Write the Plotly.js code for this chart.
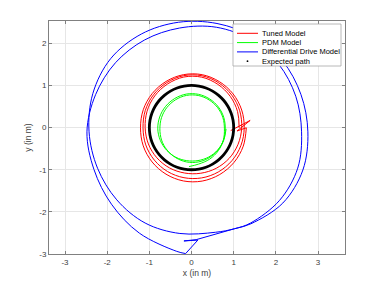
<!DOCTYPE html>
<html><head><meta charset="utf-8">
<script src="https://cdn.plot.ly/plotly-3.0.1.min.js"></script>
<style>html,body{margin:0;padding:0;background:#fff}#chart{width:382px;height:286px}</style>
</head><body><div id="chart"></div>
<script>
const seriesNames = ['Tuned Model','PDM Model','Differential Drive Model','Expected path'];
const seriesColors = ['#ff0000','#00ff00','#0000ff','#000000'];
const xTickVals = [-3,-2,-1,0,1,2,3];
const xTickText = ['-3','-2','-1','0','1','2','3'];
const yTickVals = [-3,-2,-1,0,1,2];
const yTickText = ['-3','-2','-1','0','1','2'];

const tunedHookX = [0.93,1.39,1.08,1.30];
const tunedHookY = [-0.07,0.17,-0.08,-0.005];
const tunedX = [1.30,1.227,1.008,0.67,0.253,-0.193,-0.605,-0.935,-1.145,-1.21,-1.145,-0.935,-0.605,-0.193,0.253,0.662,0.987,1.19,
 1.25,1.173,0.959,0.635,0.24,-0.179,-0.569,-0.882,-1.085,-1.15,-1.097,-0.903,-0.589,-0.189,0.248,0.646,0.955,1.143,
 1.19,1.104,0.893,0.585,0.22,-0.16,-0.52,-0.82,-1.023,-1.10,-1.054,-0.872,-0.57,-0.183,0.242,0.625,0.919,1.092,1.13];
const tunedY = [-0.005,-0.44,-0.826,-1.113,-1.269,-1.266,-1.105,-0.815,-0.433,-0.005,0.423,0.805,1.095,1.256,1.256,1.09,0.798,0.417,
 -0.005,-0.421,-0.785,-1.053,-1.194,-1.189,-1.042,-0.771,-0.411,-0.005,0.405,0.778,1.066,1.232,1.23,1.061,0.771,0.40,
 -0.005,-0.396,-0.73,-0.966,-1.083,-1.079,-0.958,-0.719,-0.388,-0.005,0.389,0.752,1.034,1.20,1.197,1.026,0.741,0.381,-0.005];

const pdmX = [0.82,0.764,0.619,0.407,0.153,-0.113,-0.37,-0.587,-0.739,-0.80,-0.755,-0.615,-0.397,-0.126,0.165,0.43,0.638,0.765,
 0.80,0.757,0.624,0.417,0.159,-0.119,-0.375,-0.58,-0.71,-0.75,-0.712,-0.584,-0.379,-0.12,0.16,0.417,0.619,0.745,
 0.78,0.755,0.636,0.434,0.168,-0.06];
const pdmY = [-0.03,-0.301,-0.533,-0.699,-0.783,-0.785,-0.705,-0.54,-0.306,-0.03,0.252,0.503,0.691,0.795,0.79,0.68,0.489,0.241,
 -0.03,-0.298,-0.537,-0.717,-0.816,-0.815,-0.714,-0.533,-0.296,-0.03,0.236,0.477,0.66,0.764,0.762,0.657,0.473,0.234,
 -0.03,-0.297,-0.547,-0.746,-0.866,-0.925];

const ddHookX = [1.02,0.11,-0.18,0.15,-0.14];
const ddHookY = [-2.40,-2.66,-2.69,-2.67,-2.99];
const ddX = [-0.14,-0.351,-1.238,-1.898,-2.313,-2.48,-2.275,-1.803,-1.11,-0.285,
 0.588,1.41,2.065,2.472,2.61,2.519,2.088,1.40,1.02,0.571,
 -0.276,-1.10,-1.773,-2.228,-2.43,-2.341,-1.918,-1.19,-0.309,0.604,
 1.455,2.157,2.594,2.76,2.641,2.165,1.41,1.02];
const ddY = [-2.99,-2.937,-2.504,-1.819,-0.996,-0.1,0.782,1.540,2.082,2.363,
 2.382,2.082,1.508,0.745,-0.1,-0.962,-1.727,-2.265,-2.40,-2.484,
 -2.513,-2.265,-1.714,-0.965,-0.1,0.806,1.636,2.221,2.50,2.471,
 2.16,1.585,0.789,-0.1,-1.006,-1.791,-2.282,-2.40];

const expectedX = [1,0.985,0.940,0.866,0.766,0.643,0.5,0.342,0.174,0,-0.174,-0.342,-0.5,-0.643,-0.766,-0.866,-0.940,-0.985,-1,
 -0.985,-0.940,-0.866,-0.766,-0.643,-0.5,-0.342,-0.174,0,0.174,0.342,0.5,0.643,0.766,0.866,0.940,0.985,1];
const expectedY = [0,-0.174,-0.342,-0.5,-0.643,-0.766,-0.866,-0.940,-0.985,-1,-0.985,-0.940,-0.866,-0.766,-0.643,-0.5,-0.342,-0.174,0,
 0.174,0.342,0.5,0.643,0.766,0.866,0.940,0.985,1,0.985,0.940,0.866,0.766,0.643,0.5,0.342,0.174,0];

const FONT = 'Liberation Sans, Arial, Helvetica, sans-serif';
const M = {l:49, r:37, t:21, b:32};
const PW = 382 - M.l - M.r, PH = 286 - M.t - M.b;
const px = x => (x - M.l) / PW;
const py = y => (286 - M.b - y) / PH;

function tr(x, y, i, w, smooth) {
  const line = {color:seriesColors[i], width:w, shape: smooth ? 'spline' : 'linear'};
  if (smooth) line.smoothing = 1;
  return {x:x, y:y, mode:'lines', name:seriesNames[i], showlegend:false, hoverinfo:'skip', line:line};
}
const traces = [
 tr(tunedHookX, tunedHookY, 0, 1, false),
 tr(tunedX, tunedY, 0, 1, true),
 tr(pdmX, pdmY, 1, 1, true),
 tr(ddHookX, ddHookY, 2, 1, false),
 tr(ddX, ddY, 2, 1, true),
 tr(expectedX, expectedY, 3, 2.8, true)
];

// MATLAB-style legend box
const legBox = {x0:233, x1:341, y0:24, y1:66};
const rows = [33.3, 42.6, 51.9, 61.2];
const shapes = [{type:'rect', xref:'paper', yref:'paper', x0:px(legBox.x0), x1:px(legBox.x1), y0:py(legBox.y1), y1:py(legBox.y0),
  fillcolor:'#ffffff', line:{color:'#a6a6a6', width:0.8}, layer:'above'}];
const annotations = [];
rows.forEach((ry, i) => {
  if (i < 3) {
    shapes.push({type:'line', xref:'paper', yref:'paper', x0:px(237), x1:px(258), y0:py(ry), y1:py(ry),
      line:{color:seriesColors[i], width:1}, layer:'above'});
  } else {
    shapes.push({type:'circle', xref:'paper', yref:'paper', x0:px(246.6), x1:px(248.4), y0:py(ry+0.9), y1:py(ry-0.9),
      fillcolor:'#000', line:{color:'#000', width:0}, layer:'above'});
  }
  annotations.push({xref:'paper', yref:'paper', x:px(260), y:py(ry), xanchor:'left', yanchor:'middle',
    text:seriesNames[i], showarrow:false, font:{family:FONT, size:7.5, color:'#000'}});
});

const axisCommon = {showline:true, linecolor:'#808080', linewidth:1, mirror:'ticks', ticks:'inside', ticklen:3,
  tickcolor:'#808080', tickwidth:1, showgrid:true, gridcolor:'#e6e6e6', gridwidth:1, zeroline:false,
  tickfont:{family:FONT, size:8, color:'#404040'}, automargin:false, fixedrange:true};

const layout = {
  width:382, height:286, margin:M, paper_bgcolor:'#fff', plot_bgcolor:'#fff', showlegend:false,
  font:{family:FONT},
  xaxis: Object.assign({}, axisCommon, {range:[-3.38,3.64], tickmode:'array', tickvals:xTickVals, ticktext:xTickText,
    title:{text:'x (in m)', font:{family:FONT, size:8.5, color:'#404040'}, standoff:4}}),
  yaxis: Object.assign({}, axisCommon, {range:[-3,2.53], tickmode:'array', tickvals:yTickVals, ticktext:yTickText,
    title:{text:'y (in m)', font:{family:FONT, size:8.5, color:'#404040'}, standoff:6}}),
  shapes: shapes, annotations: annotations
};

Plotly.newPlot('chart', traces, layout, {staticPlot:true, displayModeBar:false});
</script></body></html>
